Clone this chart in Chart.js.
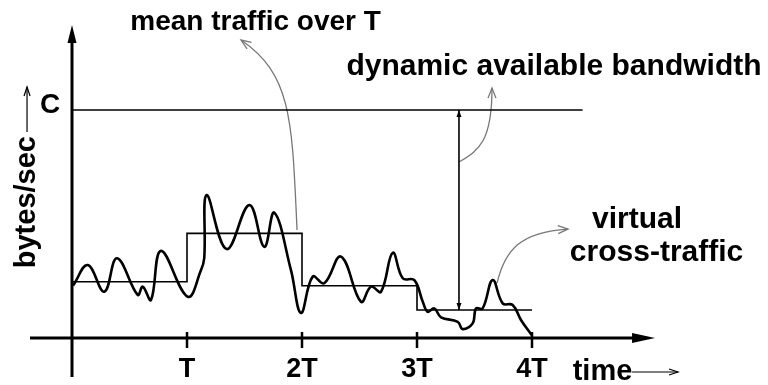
<!DOCTYPE html>
<html>
<head>
<meta charset="utf-8">
<script src="https://cdn.jsdelivr.net/npm/chart.js@4"></script>
<style>
  html, body { margin: 0; padding: 0; background: #fff; }
  canvas { display: block; }
</style>
</head>
<body>
<canvas id="myChart" width="768" height="385"></canvas>
<script>
'use strict';

// time in units of T, rate in units of C
const tickValues = [1, 2, 3, 4];
const tickLabels = ['T', '2T', '3T', '4T'];
const capacity = 1;
const capacityEnd = 4.44;

// mean traffic over each interval T
const meanX = [0, 1, 2, 3, 4];
const meanY = [0.247, 0.459, 0.229, 0.123, 0.123];

// instantaneous (virtual cross-) traffic
const trafficX = [0.01, 0.137, 0.281, 0.391, 0.571, 0.615, 0.687, 0.774, 1.006, 1.122, 1.150, 1.171,
                  1.345, 1.542, 1.672, 1.759, 1.904, 1.991, 2.093, 2.194, 2.339, 2.513, 2.600, 2.687,
                  2.789, 2.876, 2.977, 3.050, 3.093, 3.150, 3.209, 3.354, 3.397, 3.484, 3.513, 3.571,
                  3.658, 3.745, 3.832, 3.904, 3.997];
const trafficY = [0.23, 0.320, 0.203, 0.350, 0.189, 0.225, 0.167, 0.382, 0.181, 0.298, 0.351, 0.627,
                  0.390, 0.583, 0.400, 0.550, 0.298, 0.110, 0.269, 0.240, 0.357, 0.159, 0.225, 0.203,
                  0.374, 0.262, 0.254, 0.159, 0.115, 0.130, 0.091, 0.071, 0.039, 0.064, 0.130, 0.130,
                  0.254, 0.152, 0.145, 0.079, 0.013];

// available bandwidth marker (between C and mean of last interval)
const availX = 3.365;

function font(size){
    return 'bold ' + size + 'px "Liberation Sans", Arial, sans-serif';
}

function pts(xs, ys){
    return xs.map((x, i) => ({ x: x, y: ys[i] }));
}

function arrowHead(ctx, x, y, angle, len, half, filled){
    ctx.save();
    ctx.translate(x, y);
    ctx.rotate(angle);
    ctx.beginPath();
    ctx.moveTo(-len, -half);
    ctx.lineTo(0, 0);
    ctx.lineTo(-len, half);
    if( filled ){
        ctx.closePath();
        ctx.fill();
    } else {
        ctx.stroke();
    }
    ctx.restore();
}

const sketchPlugin = {
    id: 'sketch',
    beforeDatasetsDraw(chart){
        const ctx = chart.ctx;
        const xs = chart.scales.x, ys = chart.scales.y;
        const X = v => xs.getPixelForValue(v);
        const Y = v => ys.getPixelForValue(v);
        ctx.save();
        ctx.strokeStyle = '#000';
        ctx.fillStyle = '#000';
        ctx.lineWidth = 3;
        // x axis
        ctx.beginPath();
        ctx.moveTo(X(-0.365), Y(0));
        ctx.lineTo(X(5.07) - 18, Y(0));
        ctx.stroke();
        arrowHead(ctx, X(5.07), Y(0), 0, 23, 5, true);
        // y axis
        ctx.beginPath();
        ctx.moveTo(X(0), Y(-0.171));
        ctx.lineTo(X(0), Y(1.373) + 14);
        ctx.stroke();
        arrowHead(ctx, X(0), Y(1.373), -Math.PI / 2, 18, 4.5, true);
        // ticks
        ctx.lineWidth = 2.5;
        tickValues.forEach(v => {
            ctx.beginPath();
            ctx.moveTo(X(v), Y(0) - 6);
            ctx.lineTo(X(v), Y(0) + 10);
            ctx.stroke();
        });
        // tick labels
        ctx.textAlign = 'center';
        ctx.textBaseline = 'middle';
        ctx.font = font(27);
        tickValues.forEach((v, i) => ctx.fillText(tickLabels[i], X(v), Y(-0.140)));
        ctx.font = font(28);
        ctx.fillText('C', X(-0.191), Y(capacity + 0.022));
        ctx.fillText('mean traffic over T', X(1.596), Y(1.386));
        ctx.font = font(29);
        ctx.fillText('time', X(4.613), Y(-0.149));
        ctx.save();
        ctx.translate(X(-0.391), Y(0.596));
        ctx.rotate(-Math.PI / 2);
        ctx.fillText('bytes/sec', 0, 0);
        ctx.restore();
        ctx.font = font(30);
        ctx.fillText('dynamic available bandwidth', X(4.191), Y(1.189));
        ctx.fillText('virtual', X(4.913), Y(0.518));
        ctx.fillText('cross-traffic', X(5.083), Y(0.373));

        // thin label arrows
        ctx.lineWidth = 1.2;
        ctx.beginPath();
        ctx.moveTo(X(-0.391), Y(0.904));
        ctx.lineTo(X(-0.391), Y(1.101));
        ctx.stroke();
        arrowHead(ctx, X(-0.391), Y(1.101), -Math.PI / 2, 9, 3, false);
        ctx.beginPath();
        ctx.moveTo(X(4.87), Y(-0.149));
        ctx.lineTo(X(5.27), Y(-0.149));
        ctx.stroke();
        arrowHead(ctx, X(5.27), Y(-0.149), 0, 9, 3, false);

        // gray callout arrows
        ctx.strokeStyle = '#777';
        ctx.lineWidth = 1.3;
        const callouts = [
            [[1.957, 0.474], [1.913, 0.956], [1.913, 1.154], [1.470, 1.307]],
            [[3.365, 0.772], [3.548, 0.825], [3.652, 0.868], [3.652, 1.096]],
            [[3.696, 0.241], [3.765, 0.386], [3.896, 0.465], [4.313, 0.478]]
        ];
        callouts.forEach(c => {
            const p = c.map(q => [X(q[0]), Y(q[1])]);
            ctx.beginPath();
            ctx.moveTo(p[0][0], p[0][1]);
            ctx.bezierCurveTo(p[1][0], p[1][1], p[2][0], p[2][1], p[3][0], p[3][1]);
            ctx.stroke();
            const ang = Math.atan2(p[3][1] - p[2][1], p[3][0] - p[2][0]);
            arrowHead(ctx, p[3][0], p[3][1], ang, 10, 4, false);
        });

        // double arrow for available bandwidth
        ctx.strokeStyle = '#000';
        ctx.fillStyle = '#000';
        arrowHead(ctx, X(availX), Y(capacity), -Math.PI / 2, 7, 2.5, true);
        arrowHead(ctx, X(availX), Y(meanY[3]), Math.PI / 2, 7, 2.5, true);
        ctx.restore();
    }
};

const ctx = document.getElementById('myChart');
const myChart = new Chart(ctx, {
    type: 'scatter',
    data: {
        datasets: [
            {
                data: pts(trafficX, trafficY),
                showLine: true,
                borderColor: '#000',
                borderWidth: 2.6,
                tension: 0.4,
                pointRadius: 0
            },
            {
                data: pts(meanX, meanY),
                showLine: true,
                stepped: true,
                borderColor: '#000',
                borderWidth: 1.6,
                pointRadius: 0
            },
            {
                data: [{ x: 0, y: capacity }, { x: capacityEnd, y: capacity }],
                showLine: true,
                borderColor: '#000',
                borderWidth: 1.6,
                pointRadius: 0
            },
            {
                data: [{ x: availX, y: meanY[3] }, { x: availX, y: capacity }],
                showLine: true,
                borderColor: '#000',
                borderWidth: 1.6,
                pointRadius: 0
            }
        ]
    },
    plugins: [sketchPlugin],
    options: {
        responsive: false,
        animation: false,
        devicePixelRatio: 1,
        layout: { padding: 0 },
        plugins: {
            legend: { display: false },
            tooltip: { enabled: false }
        },
        scales: {
            x: { type: 'linear', display: false, min: -0.6261, max: 6.0522 },
            y: { type: 'linear', display: false, min: -0.2061, max: 1.4825 }
        }
    }
});
</script>
</body>
</html>
